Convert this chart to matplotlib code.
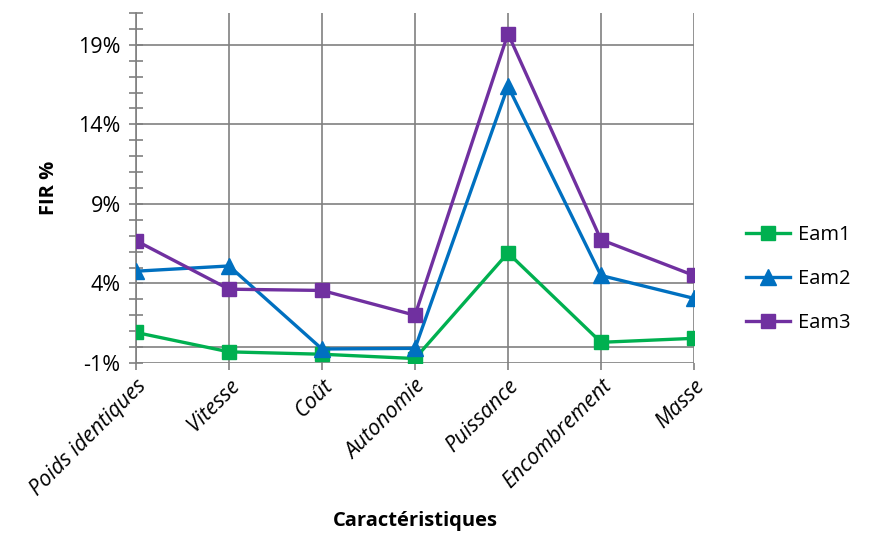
import matplotlib.pyplot as plt
from matplotlib.ticker import MultipleLocator, FuncFormatter

categories = ['Poids identiques', 'Vitesse', 'Coût', 'Autonomie', 'Puissance', 'Encombrement', 'Masse']
eam1 = [0.92, -0.30, -0.45, -0.72, 5.92, 0.30, 0.55]
eam2 = [4.77, 5.10, -0.12, -0.08, 16.4, 4.50, 3.06]
eam3 = [6.69, 3.64, 3.56, 2.00, 19.7, 6.75, 4.50]
series_names = ['Eam1', 'Eam2', 'Eam3']
colors = ['#00B050', '#0070C0', '#7030A0']
markers = ['s', '^', 's']

plt.rcParams['font.family'] = ['Open Sans', 'DejaVu Sans']

fig = plt.figure(figsize=(8.69, 5.38), dpi=100)
ax = fig.add_axes([0.1565, 0.3253, 0.6421, 0.6505])

x = list(range(len(categories)))
for vals, name, c, m in zip([eam1, eam2, eam3], series_names, colors, markers):
    ax.plot(x, vals, color=c, marker=m, markersize=10 if m == 's' else 11,
            linewidth=2.4, label=name, zorder=3)

ax.set_xlim(0, len(categories) - 1)
ax.set_ylim(-1, 21)
ax.yaxis.set_minor_locator(MultipleLocator(1))
ax.set_yticks([-1, 4, 9, 14, 19])
ax.yaxis.set_major_formatter(FuncFormatter(lambda v, p: '%d%%' % v))
ax.set_xticks(x)
ax.set_xticklabels(categories, rotation=45, ha='right', rotation_mode='anchor',
                   fontsize=15.5, style='italic')
ax.tick_params(axis='y', which='both', direction='inout', color='#808080', width=1.2, labelsize=15.5)
ax.tick_params(axis='y', which='major', length=10, pad=6)
ax.tick_params(axis='y', which='minor', length=10)
ax.tick_params(axis='x', direction='out', length=5, color='#808080', width=1.2, pad=4)

ax.grid(True, which='major', color='#808080', linewidth=1.2)
ax.axhline(0, color='#808080', linewidth=1.2, zorder=1)
for s in ['top', 'right', 'bottom']:
    ax.spines[s].set_visible(False)
ax.spines['left'].set_color('#808080')
ax.spines['left'].set_linewidth(1.2)

ax.set_ylabel('FIR %', fontsize=14.5, fontweight='bold', labelpad=14)
ax.set_xlabel('Caractéristiques', fontsize=14.5, fontweight='bold', labelpad=8)

ax.legend(loc='center left', bbox_to_anchor=(1.06, 0.24), frameon=False, fontsize=14.5,
          labelspacing=1.2, handlelength=2.2, handletextpad=0.4)

fig.savefig('out.png', dpi=100)
